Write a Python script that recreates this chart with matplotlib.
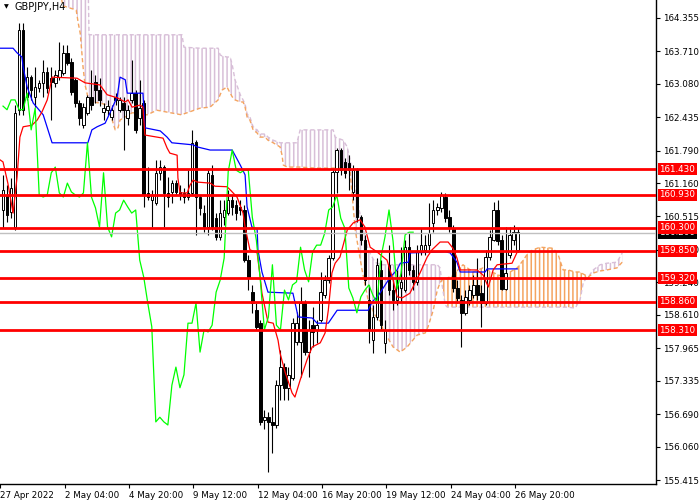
import matplotlib
matplotlib.use("Agg")
import matplotlib.pyplot as plt
import numpy as np

# --- candles (GBPJPY H4), bar index = position ---
opens = [160.64, 160.93, 160.60, 160.31, 162.58, 164.12, 162.83, 163.21, 162.83, 163.00,
         163.10, 163.31, 163.19, 163.10, 163.21, 163.29, 163.68, 163.50, 163.16, 162.71,
         162.29, 162.52, 162.83, 163.12, 162.96, 162.54, 162.58, 162.44, 162.83, 162.58,
         162.71, 162.42, 162.77, 162.90, 162.42, 162.71, 160.97, 160.83, 160.78, 161.36,
         161.47, 160.97, 160.99, 161.16, 160.99, 160.97, 160.89, 160.97, 161.95, 160.89,
         160.58, 160.31, 161.32, 160.48, 160.12, 160.50, 160.58, 160.83, 160.74, 160.70,
         160.64, 159.67, 159.05, 158.70, 158.45, 156.58, 156.63, 156.54, 156.48, 157.25,
         157.60, 157.20, 157.39, 158.09, 158.09, 158.84, 157.89, 158.41, 158.32, 158.51,
         158.99, 159.28, 159.71, 161.38, 161.80, 161.57, 161.55, 160.99, 161.41, 160.50,
         160.06, 158.90, 158.12, 158.57, 159.48, 158.07, 159.58, 159.09, 158.90, 159.13,
         159.09, 159.92, 159.48, 159.25, 159.83, 159.87, 159.96, 160.39, 160.64, 160.68,
         160.89, 160.50, 160.29, 159.13, 158.90, 158.65, 158.90, 158.99, 159.19, 159.03,
         158.84, 159.73, 160.06, 160.64, 160.06, 159.11, 159.77, 160.06, 159.87]
highs = [161.32, 161.12, 161.26, 162.67, 164.26, 164.26, 163.41, 163.25, 163.41, 163.16,
         163.54, 163.41, 163.41, 163.35, 163.89, 163.83, 163.83, 163.58, 163.19, 162.77,
         162.71, 162.87, 163.35, 163.25, 163.19, 162.71, 162.77, 162.67, 162.90, 162.83,
         162.83, 162.67, 163.54, 162.97, 163.16, 162.77, 161.47, 161.03, 161.61, 161.61,
         161.51, 161.28, 161.22, 161.22, 161.12, 161.07, 161.41, 162.19, 161.99, 160.93,
         160.74, 161.41, 161.51, 160.58, 160.83, 160.83, 161.03, 160.93, 160.83, 160.83,
         160.74, 159.77, 159.19, 158.84, 158.51, 156.77, 156.73, 156.83, 157.35, 157.93,
         157.68, 157.60, 158.55, 158.67, 159.15, 158.90, 158.51, 158.76, 158.51, 159.44,
         159.38, 159.77, 161.41, 161.84, 161.84, 161.65, 161.70, 161.51, 161.45, 160.54,
         160.16, 159.19, 158.80, 159.71, 159.67, 158.51, 159.96, 159.28, 159.48, 159.92,
         160.06, 160.19, 159.58, 159.96, 160.29, 160.16, 160.78, 160.83, 160.78, 160.99,
         160.97, 160.64, 160.35, 159.28, 158.99, 159.09, 159.19, 159.38, 159.71, 159.19,
         159.87, 160.25, 160.79, 160.83, 160.16, 160.31, 160.31, 160.35, 160.29]
lows = [160.29, 160.41, 160.48, 160.25, 162.48, 162.48, 162.77, 162.77, 162.63, 162.92,
        162.83, 162.90, 162.38, 163.02, 163.16, 163.25, 163.45, 162.87, 162.63, 162.29,
        162.23, 162.48, 162.58, 162.71, 162.65, 162.38, 162.48, 162.38, 162.67, 162.54,
        161.80, 162.29, 162.71, 162.13, 162.29, 160.70, 160.83, 160.31, 160.74, 161.22,
        160.31, 160.70, 160.78, 160.93, 160.83, 160.78, 160.83, 160.93, 160.16, 160.54,
        160.21, 160.16, 160.25, 160.06, 160.06, 160.35, 160.54, 160.54, 160.45, 160.54,
        159.63, 159.09, 158.65, 158.32, 156.48, 156.40, 155.57, 155.94, 156.42, 156.96,
        156.96, 156.96, 157.35, 158.03, 157.41, 157.83, 157.41, 157.99, 158.07, 158.47,
        158.94, 159.23, 159.67, 160.97, 161.32, 161.26, 161.03, 160.83, 160.41, 159.96,
        159.19, 158.07, 157.87, 158.51, 158.32, 157.87, 158.99, 158.70, 158.80, 158.86,
        159.05, 159.38, 159.09, 159.19, 159.77, 159.77, 159.87, 160.21, 160.54, 160.60,
        160.41, 160.21, 159.05, 158.84, 157.99, 158.61, 158.80, 158.94, 158.90, 158.38,
        158.80, 159.67, 160.04, 159.96, 159.09, 159.09, 159.71, 159.96, 159.83]
closes = [161.03, 160.54, 161.07, 162.52, 164.12, 162.58, 163.21, 162.96, 163.02, 163.10,
          163.31, 163.00, 163.12, 163.25, 163.35, 163.68, 163.48, 162.92, 162.71, 162.42,
          162.63, 162.83, 162.67, 162.96, 162.77, 162.61, 162.65, 162.58, 162.77, 162.77,
          162.58, 162.58, 162.90, 162.19, 162.61, 160.93, 160.89, 160.93, 161.36, 161.47,
          160.97, 160.89, 161.16, 160.99, 160.93, 160.89, 160.97, 161.94, 160.89, 160.68,
          160.31, 161.36, 160.31, 160.12, 160.58, 160.64, 160.83, 160.70, 160.58, 160.64,
          159.67, 159.34, 158.84, 158.38, 156.54, 156.63, 156.54, 156.48, 157.25, 157.60,
          157.20, 157.45, 158.45, 158.45, 158.84, 157.89, 158.32, 158.28, 158.41, 159.05,
          159.28, 159.71, 161.38, 161.80, 161.41, 161.36, 161.41, 161.41, 160.50, 160.06,
          159.28, 158.32, 158.57, 159.58, 158.41, 158.32, 159.09, 158.90, 159.19, 159.25,
          159.92, 159.48, 159.25, 159.83, 159.96, 159.96, 160.19, 160.64, 160.70, 160.93,
          160.48, 160.29, 159.13, 158.94, 158.65, 158.96, 159.09, 159.19, 158.99, 158.84,
          159.73, 160.12, 160.64, 160.04, 159.11, 159.42, 160.16, 160.21, 160.21]

# --- Ichimoku lines (bar position, price) ---
tenkan_x = [-0.75, 0, 1.2, 2.5, 3.5, 4.2, 5.0, 7.2, 8.5, 9.7, 11.0, 11.7, 12.2, 18.4, 20.4,
            24.1, 25.9, 28.4, 30.4, 31.1, 32.1, 34.1, 34.8, 35.3, 39.8, 40.8, 41.5, 43.3,
            43.5, 44.0, 45.8, 46.5, 47.3, 48.3, 51.5, 52.7, 55.7, 56.5, 58.2, 59.7, 60.2,
            61.4, 63.2, 63.9, 64.4, 65.9, 67.2, 68.4, 68.9, 70.2, 71.9, 72.6, 73.9, 75.6,
            76.9, 78.9, 80.1, 80.9, 81.8, 82.6, 83.8, 85.6, 87.1, 88.8, 90.0, 91.3, 93.0,
            95.5, 97.0, 98.0, 99.3, 101.2, 103.7, 105.5, 106.7, 108.7, 110.7, 111.9, 112.9,
            113.7, 117.9, 119.4, 120.7, 121.9, 122.9, 126.6, 127.9]
tenkan_y = [161.61, 161.57, 161.16, 160.58, 161.28, 162.05, 162.25, 162.28, 162.38, 162.54,
            162.77, 163.02, 163.21, 163.19, 163.10, 163.06, 162.87, 162.81, 162.73, 162.77,
            162.63, 162.67, 162.63, 162.09, 162.03, 161.84, 161.74, 161.70, 161.26, 160.97,
            160.97, 161.12, 161.22, 161.18, 161.16, 161.10, 161.09, 161.03, 160.89, 160.58,
            160.31, 159.87, 159.81, 159.38, 159.03, 158.47, 158.45, 158.12, 157.87, 157.49,
            157.10, 157.02, 157.35, 157.74, 157.99, 158.07, 158.26, 158.70, 159.42, 159.61,
            159.73, 160.25, 160.39, 160.45, 160.31, 159.92, 159.83, 159.67, 159.29, 158.96,
            158.94, 159.03, 159.42, 159.73, 159.87, 160.02, 160.02, 159.90, 159.71, 159.48,
            159.48, 159.38, 159.15, 159.48, 159.58, 159.61, 159.83]
kijun_x = [-0.75, 2.5, 3.5, 4.7, 5.0, 6.0, 7.5, 10.0, 12.2, 21.1, 22.1, 23.4, 25.4, 26.6,
           28.4, 29.1, 30.4, 30.9, 34.8, 35.3, 39.1, 40.8, 42.0, 47.3, 48.3, 51.5, 57.0,
           59.0, 60.2, 60.7, 61.9, 63.2, 63.4, 64.4, 65.2, 65.9, 72.1, 73.4, 76.9, 78.1,
           80.9, 83.1, 90.8, 91.8, 93.3, 96.3, 98.0, 98.8, 100.8, 101.2, 110.0, 111.2,
           112.9, 113.7, 119.9, 120.4, 127.9]
kijun_y = [163.77, 163.77, 163.68, 163.60, 163.41, 163.02, 162.71, 162.48, 161.94, 161.94,
           162.19, 162.25, 162.32, 162.52, 162.83, 163.21, 163.16, 162.90, 162.90, 162.23,
           162.17, 162.05, 161.94, 161.90, 161.86, 161.80, 161.80, 161.51, 161.32, 160.70,
           160.31, 160.27, 159.87, 159.44, 159.23, 159.05, 159.03, 158.57, 158.55, 158.45,
           158.45, 158.70, 158.70, 158.86, 158.98, 159.34, 159.48, 159.61, 159.63, 159.81,
           159.83, 159.81, 159.63, 159.44, 159.44, 159.50, 159.50]

# cloud boundaries: Senkou Span A (sandy) and Span B (thistle)
cloud_x = [14.2, 14.9, 18.2, 18.7, 19.2, 19.9, 20.4, 21.1, 21.4, 22.1, 24.1, 25.9, 26.6,
           27.9, 28.6, 29.1, 32.1, 34.1, 35.8, 38.3, 44.5, 45.0, 49.0, 51.5, 53.5, 54.0,
           54.5, 55.7, 56.5, 57.0, 57.7, 59.0, 59.7, 60.2, 60.7, 61.4, 62.2, 63.2, 63.9,
           65.2, 65.9, 67.2, 68.9, 69.4, 69.7, 70.7, 73.1, 73.9, 77.6, 82.1, 82.6, 84.6,
           85.6, 86.3, 87.6, 89.3, 90.8, 92.5, 94.0, 94.5, 97.0, 98.8, 100.5, 103.0, 105.0,
           105.7, 107.0, 108.0, 108.7, 109.2, 110.0, 110.5, 111.9, 114.4, 116.9, 119.4,
           124.4, 126.1, 127.9, 129.4, 130.6, 131.8, 133.6, 136.8, 138.1, 139.3, 140.5,
           142.3, 143.5, 144.3, 144.8, 145.5, 146.8, 148.5, 150.2, 152.7, 154.0]
span_a = [164.86, 164.59, 164.51, 164.26, 164.06, 163.41, 163.06, 162.83, 162.81, 162.73,
          162.71, 162.67, 162.52, 162.19, 162.23, 162.38, 162.52, 162.52, 162.48, 162.57,
          162.48, 162.50, 162.61, 162.63, 162.77, 162.87, 162.96, 163.02, 162.90, 162.83,
          162.77, 162.73, 162.73, 162.63, 162.44, 162.38, 162.19, 162.13, 162.05, 162.05,
          161.99, 161.94, 161.86, 161.70, 161.51, 161.47, 161.47, 161.47, 161.45, 161.45,
          161.45, 161.45, 161.43, 161.41, 160.25, 159.48, 158.90, 158.61, 158.47, 158.32,
          157.99, 157.89, 157.99, 158.22, 158.26, 158.38, 158.70, 159.09, 159.23, 159.29,
          159.30, 159.32, 159.38, 159.58, 159.44, 159.52, 159.34, 159.44, 159.52, 159.67,
          159.81, 159.87, 159.92, 159.90, 159.77, 159.48, 159.48, 159.44, 159.44, 159.40,
          159.38, 159.34, 159.42, 159.46, 159.48, 159.52, 159.63]
span_b = [165.28, 165.28, 165.28, 165.28, 165.28, 165.28, 165.28, 165.28, 164.03, 164.03,
          164.03, 164.03, 164.03, 164.03, 164.03, 164.03, 164.03, 164.03, 164.03, 164.03,
          164.03, 163.79, 163.77, 163.77, 163.77, 163.64, 163.62, 163.60, 163.60, 163.45,
          163.16, 162.87, 162.77, 162.69, 162.50, 162.44, 162.25, 162.19, 162.11, 162.11,
          162.05, 161.99, 161.94, 161.94, 161.94, 161.94, 161.94, 162.19, 162.19, 162.19,
          162.05, 161.99, 161.86, 161.61, 161.03, 160.35, 159.87, 159.63, 159.58, 159.58,
          159.58, 159.58, 159.58, 159.58, 159.58, 159.58, 159.58, 159.58, 159.52, 159.19,
          158.80, 158.76, 158.76, 158.76, 158.76, 158.76, 158.76, 158.76, 158.76, 158.76,
          158.76, 158.76, 158.76, 158.76, 158.76, 158.76, 158.76, 158.74, 158.90, 159.23,
          159.29, 159.34, 159.48, 159.58, 159.61, 159.63, 159.81]

levels = [161.430, 160.930, 160.300, 159.850, 159.320, 158.860, 158.310]
last_price = 160.200
price_ticks = [164.355, 163.710, 163.080, 162.435, 161.790, 161.160, 160.515, 159.870,
               159.240, 158.610, 157.965, 157.335, 156.690, 156.060, 155.415]
time_ticks = [-0.7, 15.3, 31.3, 47.3, 63.3, 79.3, 95.3, 111.3, 127.3]
time_labels = ['27 Apr 2022', '2 May 04:00', '4 May 20:00', '9 May 12:00', '12 May 04:00',
               '16 May 20:00', '19 May 12:00', '24 May 04:00', '26 May 20:00']

plt.rcParams['font.family'] = 'DejaVu Sans'
plt.rcParams['hatch.linewidth'] = 1.1

fig = plt.figure(figsize=(7, 5), dpi=100)
ax = fig.add_axes([0, 16 / 500, 656 / 700, 484 / 500])

o = np.array(opens); h = np.array(highs); l = np.array(lows); c = np.array(closes)
xs = np.arange(len(c))

# cloud
cx = np.array(cloud_x); sa = np.array(span_a); sb = np.array(span_b)
ax.fill_between(cx, sa, sb, where=sb >= sa, interpolate=True, facecolor='none',
                edgecolor='#d8bfd8', hatch='||||', linewidth=0, zorder=1)
ax.fill_between(cx, sa, sb, where=sa > sb, interpolate=True, facecolor='none',
                edgecolor='#f4a460', hatch='||||', linewidth=0, zorder=1)
ax.plot(cx, sb, color='#d8bfd8', lw=1, ls=(0, (3, 2)), zorder=1.5)
ax.plot(cx, sa, color='#f4a460', lw=1, ls=(0, (3, 2)), zorder=1.5)

# candles
ax.vlines(xs, l, h, color='black', lw=0.8, zorder=2)
up = c >= o
ax.bar(xs[up], c[up] - o[up], bottom=o[up], width=0.62, color='white',
       edgecolor='black', linewidth=0.7, zorder=2.2)
ax.bar(xs[~up], o[~up] - c[~up], bottom=c[~up], width=0.62, color='black',
       edgecolor='black', linewidth=0.7, zorder=2.2)

# ichimoku lines
ax.plot(kijun_x, kijun_y, color='#0000ff', lw=0.9, zorder=3)
ax.plot(tenkan_x, tenkan_y, color='#ff0000', lw=0.9, zorder=3)
ax.plot(xs[:len(c) - 26], c[26:], color='#00ff00', lw=0.9, zorder=3)

# price line and levels
ax.axhline(last_price, color='#c0c0c0', lw=1, zorder=3.5)
for lv in levels:
    ax.axhline(lv, color='red', lw=2.0, zorder=4)

ax.set_xlim(-0.75, 162.4)
ax.set_ylim(155.338, 164.703)

for s in ['left', 'top']:
    ax.spines[s].set_visible(False)
ax.spines['right'].set_linewidth(1)
ax.spines['bottom'].set_linewidth(1)

ax.yaxis.tick_right()
ax.set_yticks(price_ticks)
ax.set_yticklabels(['%.3f' % v for v in price_ticks])
ax.tick_params(axis='y', length=3, width=0.8, pad=2, labelsize=6.3)
ax.set_xticks(time_ticks)
ax.set_xticklabels(time_labels)
ax.tick_params(axis='x', length=3, width=0.8, pad=2, labelsize=6.3)
for t in ax.get_xticklabels():
    t.set_ha('left')

# right-hand price labels
box = dict(boxstyle='square,pad=0.18', fc='black', ec='none')
ax.annotate('%.3f' % last_price, xy=(1, last_price), xycoords=('axes fraction', 'data'),
            xytext=(2.5, 0), textcoords='offset points', ha='left', va='center',
            fontsize=6.3, color='white', bbox=box, zorder=5, annotation_clip=False)
for lv in levels:
    ax.annotate('%.3f' % lv, xy=(1, lv), xycoords=('axes fraction', 'data'),
                xytext=(2.5, 0), textcoords='offset points', ha='left', va='center',
                fontsize=6.3, color='white', zorder=6, annotation_clip=False,
                bbox=dict(boxstyle='square,pad=0.18', fc='red', ec='none'))

ax.text(4 / 656, 1 - 7 / 484, '\u25bc', transform=ax.transAxes, fontsize=4.5,
        va='center', ha='left', color='black')
ax.text(14 / 656, 1 - 7 / 484, 'GBPJPY,H4', transform=ax.transAxes, fontsize=7,
        va='center', ha='left', color='black')

fig.savefig('out.png', dpi=100)
